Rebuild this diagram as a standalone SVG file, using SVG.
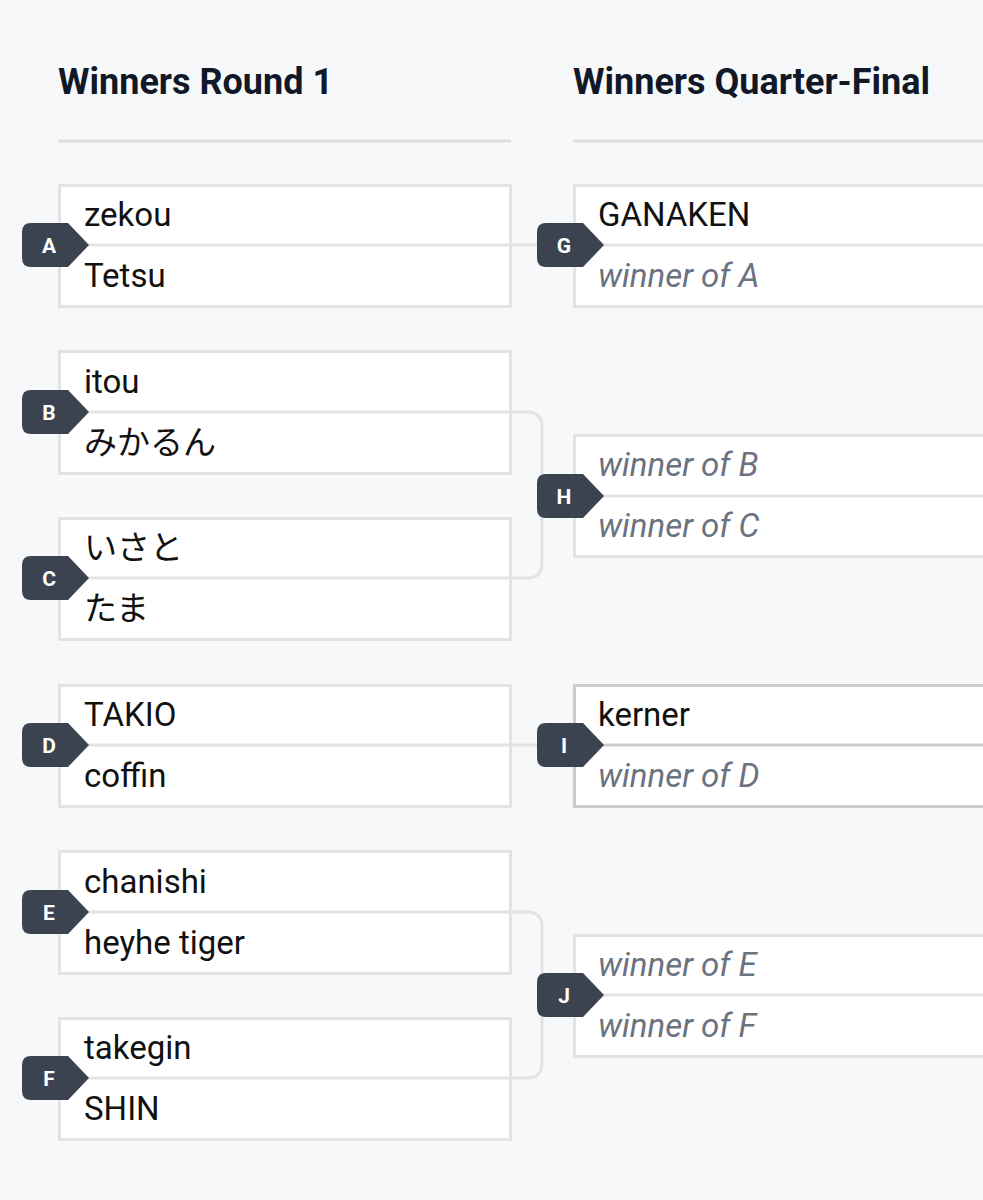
<svg xmlns="http://www.w3.org/2000/svg" width="983" height="1200" viewBox="0 0 983 1200">
<style>
.bg{fill:#f7f8fa}
.hdr{font-family:Roboto,"Liberation Sans",sans-serif;font-weight:bold;font-size:36px;fill:#111827}
.rule{stroke:#dcdde0;stroke-width:3}
.box{fill:#fff;stroke:#e3e3e3;stroke-width:3}
.box2{fill:#fff;stroke:#cccccc;stroke-width:3}
.div{stroke:#e3e3e3;stroke-width:3}
.div2{stroke:#cccccc;stroke-width:3}
.name{font-family:Roboto,"Noto Sans CJK JP",sans-serif;font-size:33px;fill:#111}
.tbd{font-family:Roboto,"Liberation Sans",sans-serif;font-style:italic;font-size:33px;fill:#6b7280}
.badge{fill:#3c4350}
.bl{font-family:Roboto,"Liberation Sans",sans-serif;font-weight:bold;font-size:21px;fill:#fff;text-anchor:middle}
.con{fill:none;stroke:#e3e3e3;stroke-width:3}
</style>
<defs>
<path id="bdg" d="M9,-22 L46,-22 L67,0 L46,22 L9,22 Q0,22 0,13 L0,-13 Q0,-22 9,-22 Z"/>
</defs>
<rect class="bg" x="0" y="0" width="983" height="1200"/>
<g id="headers">
<text class="hdr" x="58" y="94">Winners Round 1</text>
<line class="rule" x1="58" y1="141" x2="511" y2="141"/>
<text class="hdr" x="573" y="94">Winners Quarter-Final</text>
<line class="rule" x1="573" y1="141" x2="983" y2="141"/>
</g>
<g id="connectors">
<line class="con" x1="510" y1="245" x2="540" y2="245"/>
<path class="con" d="M510,412 L527,412 Q542,412 542,427 L542,563 Q542,578 527,578 L510,578"/>
<line class="con" x1="542" y1="496" x2="560" y2="496"/>
<line class="con" x1="510" y1="745" x2="540" y2="745"/>
<path class="con" d="M510,912 L527,912 Q542,912 542,927 L542,1063 Q542,1078 527,1078 L510,1078"/>
<line class="con" x1="542" y1="995" x2="560" y2="995"/>
</g>
<g id="A">
<rect class="box" x="59.5" y="185.5" width="451" height="121"/>
<line class="div" x1="59.5" y1="245" x2="510.5" y2="245"/>
<text class="name" x="84" y="226">zekou</text>
<text class="name" x="84" y="287">Tetsu</text>
<use href="#bdg" class="badge" x="22" y="245"/>
<text class="bl" x="49" y="252.5">A</text>
</g>
<g id="B">
<rect class="box" x="59.5" y="351.5" width="451" height="122"/>
<line class="div" x1="59.5" y1="412" x2="510.5" y2="412"/>
<text class="name" x="84" y="393">itou</text>
<text class="name" x="84" y="454">みかるん</text>
<use href="#bdg" class="badge" x="22" y="412"/>
<text class="bl" x="49" y="419.5">B</text>
</g>
<g id="C">
<rect class="box" x="59.5" y="518.5" width="451" height="121"/>
<line class="div" x1="59.5" y1="578" x2="510.5" y2="578"/>
<text class="name" x="84" y="559">いさと</text>
<text class="name" x="84" y="620">たま</text>
<use href="#bdg" class="badge" x="22" y="578"/>
<text class="bl" x="49" y="585.5">C</text>
</g>
<g id="D">
<rect class="box" x="59.5" y="685.5" width="451" height="121"/>
<line class="div" x1="59.5" y1="745" x2="510.5" y2="745"/>
<text class="name" x="84" y="726">TAKIO</text>
<text class="name" x="84" y="787">coffin</text>
<use href="#bdg" class="badge" x="22" y="745"/>
<text class="bl" x="49" y="752.5">D</text>
</g>
<g id="E">
<rect class="box" x="59.5" y="851.5" width="451" height="122"/>
<line class="div" x1="59.5" y1="912" x2="510.5" y2="912"/>
<text class="name" x="84" y="893">chanishi</text>
<text class="name" x="84" y="954">heyhe tiger</text>
<use href="#bdg" class="badge" x="22" y="912"/>
<text class="bl" x="49" y="919.5">E</text>
</g>
<g id="F">
<rect class="box" x="59.5" y="1018.5" width="451" height="121"/>
<line class="div" x1="59.5" y1="1078" x2="510.5" y2="1078"/>
<text class="name" x="84" y="1059">takegin</text>
<text class="name" x="84" y="1120">SHIN</text>
<use href="#bdg" class="badge" x="22" y="1078"/>
<text class="bl" x="49" y="1085.5">F</text>
</g>
<g id="G">
<rect class="box" x="574.5" y="185.5" width="420" height="121"/>
<line class="div" x1="574.5" y1="245" x2="983" y2="245"/>
<text class="name" x="598" y="226">GANAKEN</text>
<text class="tbd" x="598" y="287">winner of A</text>
<use href="#bdg" class="badge" x="537" y="245"/>
<text class="bl" x="564" y="252.5">G</text>
</g>
<g id="H">
<rect class="box" x="574.5" y="435.5" width="420" height="121"/>
<line class="div" x1="574.5" y1="496" x2="983" y2="496"/>
<text class="tbd" x="598" y="476">winner of B</text>
<text class="tbd" x="598" y="537">winner of C</text>
<use href="#bdg" class="badge" x="537" y="496"/>
<text class="bl" x="564" y="503.5">H</text>
</g>
<g id="I">
<rect class="box2" x="574.5" y="685.5" width="420" height="121"/>
<line class="div2" x1="574.5" y1="745" x2="983" y2="745"/>
<text class="name" x="598" y="726">kerner</text>
<text class="tbd" x="598" y="787">winner of D</text>
<use href="#bdg" class="badge" x="537" y="745"/>
<text class="bl" x="564" y="752.5">I</text>
</g>
<g id="J">
<rect class="box" x="574.5" y="935.5" width="420" height="121"/>
<line class="div" x1="574.5" y1="995" x2="983" y2="995"/>
<text class="tbd" x="598" y="976">winner of E</text>
<text class="tbd" x="598" y="1037">winner of F</text>
<use href="#bdg" class="badge" x="537" y="995"/>
<text class="bl" x="564" y="1002.5">J</text>
</g>
</svg>
